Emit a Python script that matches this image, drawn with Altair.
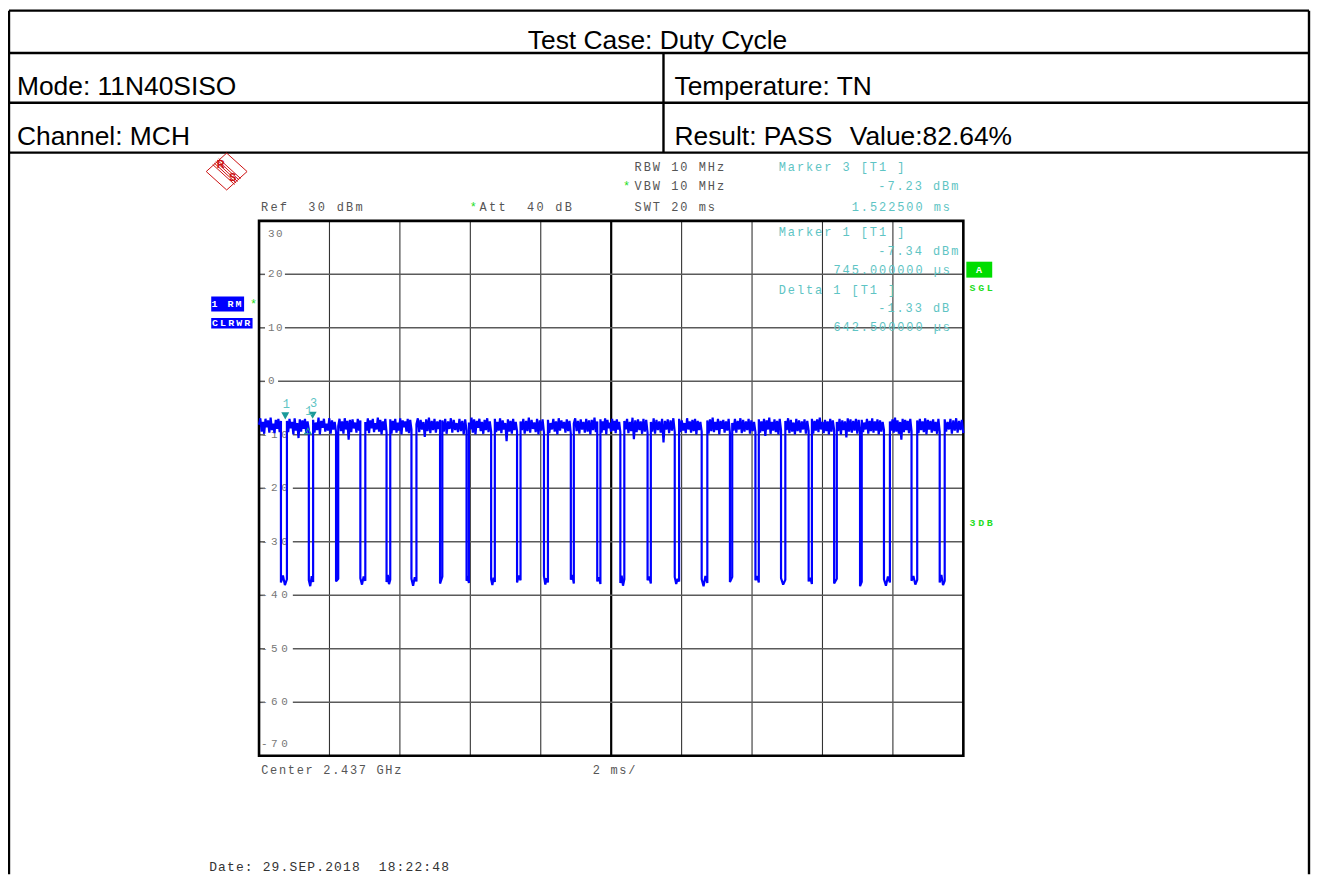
import altair as alt
import pandas as pd

# ---------------- values ----------------
sweep_ms = [0.0, 20.0]
level_top_dbm = 30
level_bottom_dbm = -70
x_grid_ms = [2, 4, 6, 8, 10, 12, 14, 16, 18]
y_tick_values = [30, 20, 10, 0, -10, -20, -30, -40, -50, -60, -70]
y_tick_labels = ["30", "20", "10", "0", "-10", "-20", "-30", "-40", "-50", "-60", "-70"]

gap_start_ms = [0.622, 1.414, 2.187, 2.877, 3.621, 4.328, 5.140, 5.893, 6.591, 7.327,
                8.091, 8.854, 9.604, 10.260, 11.033, 11.805, 12.570, 13.372, 14.096,
                14.823, 15.607, 16.331, 17.067, 17.746, 18.529, 19.329]
gap_end_ms = [0.792, 1.536, 2.249, 3.018, 3.726, 4.470, 5.205, 5.960, 6.696, 7.426,
              8.204, 8.939, 9.694, 10.373, 11.126, 11.929, 12.730, 13.437, 14.192,
              14.945, 15.700, 16.407, 17.115, 17.915, 18.690, 19.471]

burst_levels_dbm = [
    [-8.1, -6.9, -9.4, -7.6, -9.8, -7.0, -8.6, -7.3, -9.6, -6.8, -9.1, -7.9, -9.7, -7.2, -8.9, -7.0, -9.5, -7.4],
    [-7.4, -9.5, -7.0, -8.8, -7.6, -9.9, -6.9, -9.2, -7.8, -10.6, -7.1, -9.4, -7.3, -8.9, -7.0, -9.7, -7.5, -9.0],
    [-7.2, -9.6, -7.7, -9.1, -6.8, -9.9, -7.4, -8.7, -7.0, -9.4, -7.9, -9.2, -6.9, -9.8, -7.3, -9.0, -7.6, -9.5],
    [-8.4, -7.0, -9.3, -7.5, -9.8, -6.9, -9.0, -7.4, -10.9, -7.2, -9.5, -7.1, -8.8, -7.7, -9.6, -7.0, -9.2, -7.3],
    [-7.6, -9.2, -6.9, -9.7, -7.3, -8.8, -7.0, -9.5, -7.8, -9.0, -6.8, -9.4, -7.2, -9.9, -7.5, -9.1, -7.0, -9.6],
    [-7.1, -9.8, -7.4, -9.1, -7.0, -9.6, -7.7, -9.2, -6.9, -9.9, -7.3, -8.6, -7.5, -9.4, -7.0, -9.7, -7.2, -9.0],
    [-8.0, -6.9, -9.5, -7.2, -9.0, -7.6, -10.4, -7.1, -9.3, -6.8, -9.7, -7.4, -9.1, -7.0, -9.6, -7.5, -8.9, -7.2],
    [-7.3, -9.4, -7.0, -9.8, -7.5, -8.9, -6.9, -9.6, -7.2, -9.1, -7.8, -9.5, -7.0, -9.3, -7.4, -9.9, -7.1, -9.2],
    [-7.7, -9.0, -6.8, -9.6, -7.1, -9.9, -7.4, -8.7, -7.0, -9.3, -7.6, -9.8, -7.2, -9.1, -6.9, -9.5, -7.5, -9.4],
    [-7.0, -9.5, -7.6, -9.2, -6.9, -9.7, -7.3, -9.0, -7.8, -11.2, -7.1, -9.4, -7.4, -9.8, -7.0, -9.1, -7.6, -9.3],
    [-7.5, -9.1, -7.0, -9.8, -7.4, -9.3, -6.8, -9.6, -7.2, -8.9, -7.7, -9.5, -7.0, -9.9, -7.3, -9.2, -7.1, -9.6],
    [-7.2, -9.7, -7.8, -9.0, -7.0, -9.4, -7.5, -9.9, -6.9, -9.2, -7.3, -8.8, -7.6, -9.6, -7.1, -9.3, -7.4, -9.8],
    [-7.9, -6.9, -9.3, -7.4, -9.8, -7.1, -9.0, -7.6, -9.6, -7.0, -9.4, -7.3, -9.9, -7.2, -9.1, -6.8, -9.5, -7.5],
    [-7.1, -9.6, -7.5, -9.1, -6.9, -9.9, -7.2, -8.8, -7.7, -9.4, -7.0, -9.2, -7.4, -9.7, -7.1, -9.0, -7.6, -9.5],
    [-7.4, -9.0, -7.0, -9.7, -7.6, -9.3, -6.8, -10.8, -7.3, -9.5, -7.1, -9.1, -7.5, -9.8, -7.0, -9.4, -7.2, -9.6],
    [-7.6, -9.4, -6.9, -9.8, -7.2, -9.1, -7.5, -9.6, -7.0, -11.4, -7.4, -9.0, -7.1, -9.7, -7.3, -9.2, -6.9, -9.5],
    [-7.0, -9.5, -7.3, -9.2, -7.8, -9.7, -6.9, -9.0, -7.5, -9.6, -7.2, -9.3, -7.0, -9.9, -7.4, -9.1, -7.6, -9.4],
    [-7.3, -9.8, -7.1, -9.3, -6.8, -9.5, -7.6, -9.1, -7.0, -9.9, -7.4, -8.9, -7.2, -9.6, -7.5, -9.2, -7.0, -9.7],
    [-7.8, -9.2, -7.0, -9.6, -7.4, -9.0, -6.9, -9.7, -7.2, -9.4, -7.5, -9.1, -7.0, -9.8, -7.3, -9.3, -7.6, -9.5],
    [-7.1, -9.6, -7.5, -9.3, -7.0, -10.2, -7.3, -9.0, -6.8, -9.8, -7.6, -9.2, -7.1, -9.5, -7.4, -9.9, -7.0, -9.1],
    [-7.4, -9.1, -6.9, -9.7, -7.2, -9.4, -7.7, -9.9, -7.0, -9.3, -7.3, -9.6, -7.5, -9.0, -7.1, -9.8, -7.4, -9.2],
    [-7.0, -9.8, -7.4, -9.2, -7.1, -9.5, -6.8, -9.0, -7.6, -9.7, -7.2, -9.3, -7.5, -9.9, -7.0, -9.4, -7.3, -9.1],
    [-7.6, -9.3, -7.0, -9.9, -7.3, -9.1, -7.5, -10.5, -6.9, -9.4, -7.1, -9.6, -7.4, -9.2, -7.0, -9.8, -7.2, -9.5],
    [-7.2, -9.5, -7.7, -9.0, -7.0, -9.8, -7.4, -9.3, -6.9, -9.6, -7.5, -9.2, -7.1, -9.9, -7.3, -9.4, -7.6, -9.1],
    [-7.5, -9.2, -7.1, -9.6, -6.8, -9.4, -7.3, -9.8, -7.6, -10.9, -7.0, -9.5, -7.2, -9.1, -7.4, -9.7, -7.0, -9.3],
    [-7.3, -9.7, -7.0, -9.1, -7.5, -9.5, -6.9, -9.9, -7.2, -9.0, -7.4, -9.6, -7.1, -9.3, -7.6, -9.8, -7.0, -9.4],
    [-7.1, -9.4, -7.6, -9.0, -7.0, -9.8, -7.3, -9.2, -6.9, -9.6, -7.4, -9.1, -7.2, -9.7],
]

gap_floor_dbm = [
    [-37.6, -36.3, -38.1, -37.0], [-37.2, -38.3, -36.4, -37.5], [-37.4, -36.9],
    [-36.8, -38.0, -36.5, -37.3], [-37.5, -36.2, -37.9, -37.1], [-36.9, -38.2, -36.6, -37.4],
    [-37.8, -36.5], [-37.3, -36.4, -37.7], [-37.0, -38.1, -36.7, -37.5],
    [-37.6, -36.3, -37.2], [-36.4, -38.0, -36.8, -37.6], [-37.1, -36.2, -37.8],
    [-37.4, -36.6, -37.9], [-37.7, -36.3, -38.2, -37.0], [-37.2, -36.5, -37.8],
    [-36.6, -37.9, -36.9, -37.4], [-37.0, -38.3, -36.4, -37.7], [-37.5, -36.6],
    [-37.2, -36.4, -37.6], [-36.8, -38.0, -37.1], [-37.4, -36.7, -37.9],
    [-37.8, -36.9], [-38.3, -37.5], [-37.0, -38.2, -36.5, -37.6],
    [-37.3, -36.4, -38.0, -37.1], [-37.6, -36.2, -38.1, -37.3],
]

marker_labels = ["1", "1", "3"]
marker_kind = ["abs", "delta", "abs"]
marker_t_ms = [0.745, 1.3875, 1.5225]
marker_dbm = [-7.34, -8.67, -7.23]

header_title = "Test Case: Duty Cycle"
header_left = ["Mode: 11N40SISO", "Channel: MCH"]
header_right = ["Temperature: TN", "Result: PASS"]
header_value = "Value:82.64%"

# ---------------- layout (page pixels -> chart pixels) ----------------
OFF = 8
W, H = 1308, 868
BLUE = "#0000ff"
TEAL = "#5ec4c4"
TEAL_DARK = "#1a9a9a"
GRAY = "#555555"
GREEN = "#22dd22"

xs = alt.Scale(domain=sweep_ms, range=[260 - OFF, 967 - OFF], nice=False, zero=False)
ys = alt.Scale(domain=[level_bottom_dbm, level_top_dbm], range=[757 - OFF, 220 - OFF],
               nice=False, zero=False)
PX_PER_MS = (967 - 260) / 20.0

# trace table built from the read values
rows = []
starts = [sweep_ms[0]] + gap_end_ms
stops = gap_start_ms + [sweep_ms[1]]
for k, vals in enumerate(burst_levels_dbm):
    a, b = starts[k], stops[k]
    n = len(vals)
    for j, v in enumerate(vals):
        rows.append((a + (b - a) * j / (n - 1), v))
    if k < len(gap_floor_dbm):
        fl = gap_floor_dbm[k]
        gs, ge = gap_start_ms[k], gap_end_ms[k]
        m = len(fl)
        for j, v in enumerate(fl):
            rows.append((gs + (ge - gs) * j / (m - 1), v))
trace_df = pd.DataFrame(rows, columns=["t", "v"])
trace_df["i"] = range(len(trace_df))

X = lambda f: alt.X(f, scale=xs, axis=None)
Y = lambda f: alt.Y(f, scale=ys, axis=None)
PX = lambda f: alt.X(f, scale=None, axis=None)
PY = lambda f: alt.Y(f, scale=None, axis=None)

# ---- grid ----
vgrid_df = pd.DataFrame({"t": x_grid_ms, "lo": level_bottom_dbm, "hi": level_top_dbm})
vgrid_df["w"] = [2.2 if t == 10 else 1.1 for t in x_grid_ms]
vgrid_df["c"] = ["#000000" if t == 10 else "#333333" for t in x_grid_ms]
vgrid = alt.Chart(vgrid_df).mark_rule().encode(
    x=X("t:Q"), y=Y("lo:Q"), y2="hi:Q",
    strokeWidth=alt.StrokeWidth("w:Q", scale=None),
    color=alt.Color("c:N", scale=None))

hseg = []
for v, lab in zip(y_tick_values, y_tick_labels):
    if v in (level_top_dbm, level_bottom_dbm):
        continue
    resume = 0.54 if lab == "0" else (0.96 if lab.startswith("-") else 0.735)
    hseg.append((v, 0.0, 0.17))
    hseg.append((v, resume, sweep_ms[1]))
hgrid = alt.Chart(pd.DataFrame(hseg, columns=["v", "t0", "t1"])).mark_rule(
    color="#5a5a5a", strokeWidth=1.5).encode(x=X("t0:Q"), x2="t1:Q", y=Y("v:Q"))

frame = alt.Chart(pd.DataFrame({"t0": [sweep_ms[0]], "t1": [sweep_ms[1]],
                                "lo": [level_bottom_dbm], "hi": [level_top_dbm]})).mark_rect(
    fillOpacity=0, stroke="#000000", strokeWidth=2.6).encode(
    x=X("t0:Q"), x2="t1:Q", y=Y("lo:Q"), y2="hi:Q")

# ---- y tick labels (per character, monospaced with wide pitch) ----
lab_rows = []
for v, lab in zip(y_tick_values, y_tick_labels):
    if lab.startswith("-"):
        x0, pitch = 262, 10.2
    else:
        x0, pitch = 269, 8.0
    for i, ch in enumerate(lab):
        t = (x0 + 3.2 + i * pitch - 260) / PX_PER_MS
        pos = "top" if v == level_top_dbm else ("bottom" if v == level_bottom_dbm else "mid")
        lab_rows.append((t, v, ch, pos))
lab_df = pd.DataFrame(lab_rows, columns=["t", "v", "ch", "pos"])
ylab_layers = []
for pos, dy in (("mid", 0), ("top", 13), ("bottom", -12)):
    ylab_layers.append(
        alt.Chart(lab_df[lab_df.pos == pos]).mark_text(
            font="Liberation Mono", fontSize=11, color="#777777", align="center",
            baseline="middle", dy=dy).encode(x=X("t:Q"), y=Y("v:Q"), text="ch:N"))

# ---- trace ----
trace = alt.Chart(trace_df).mark_line(color=BLUE, strokeWidth=2.2, strokeJoin="bevel").encode(
    x=X("t:Q"), y=Y("v:Q"), order="i:Q")

# ---- markers ----
mk_df = pd.DataFrame({"t": marker_t_ms, "v": marker_dbm, "lab": marker_labels,
                      "kind": marker_kind})
mk_abs = alt.Chart(mk_df[mk_df.kind == "abs"]).mark_point(
    shape="M-1,-2.1L1,-2.1L0,-0.3Z", filled=True, size=64, color=TEAL_DARK, opacity=1).encode(
    x=X("t:Q"), y=Y("v:Q"))
mk_delta = alt.Chart(mk_df[mk_df.kind == "delta"]).mark_point(
    shape="M-1,1.9L1,1.9L0,0.2Z", filled=False, size=40, color=TEAL_DARK, strokeWidth=1.1,
    opacity=1).encode(x=X("t:Q"), y=Y("v:Q"))
mk_text = alt.Chart(mk_df).mark_text(
    font="Liberation Mono", fontSize=12, color=TEAL, dy=-17, dx=1).encode(
    x=X("t:Q"), y=Y("v:Q"), text="lab:N")

# ---- instrument annotation text, placed character by character ----
ann = [
    ("RBW 10 MHz", 637, 165.7, GRAY, 9.2),
    ("VBW 10 MHz", 637, 185.0, GRAY, 9.2),
    ("SWT 20 ms", 637, 205.7, GRAY, 9.2),
    ("*", 625.5, 185.0, GREEN, 9.2),
    ("Ref  30 dBm", 262, 206.0, GRAY, 9.5),
    ("*", 471.5, 206.0, GREEN, 9.5),
    ("Att  40 dB", 481.5, 206.0, GRAY, 9.5),
    ("Marker 3 [T1 ]", 781.7, 165.7, TEAL, 9.15),
    ("-7.23 dBm", 881.7, 185.0, TEAL, 9.15),
    ("1.522500 ms", 855.0, 205.7, TEAL, 9.15),
    ("Marker 1 [T1 ]", 781.7, 231.7, TEAL, 9.15),
    ("-7.34 dBm", 881.7, 250.0, TEAL, 9.15),
    ("745.000000 \u00b5s", 836.7, 269.0, TEAL, 9.15),
    ("Delta 1 [T1 ]", 781.7, 289.0, TEAL, 9.15),
    ("-1.33 dB", 881.7, 307.7, TEAL, 9.15),
    ("642.500000 \u00b5s", 836.7, 326.7, TEAL, 9.15),
    ("Center 2.437 GHz", 262.3, 771.7, GRAY, 8.9),
    ("2 ms/", 595.0, 771.7, GRAY, 8.9),
    ("*", 251.0, 303.0, GREEN, 9.0),
]
ann_rows = []
for s, x0, y0, col, pitch in ann:
    for i, ch in enumerate(s):
        if ch != " ":
            ann_rows.append((x0 + 3.5 + i * pitch - OFF, y0 - OFF, ch, col))
ann_df = pd.DataFrame(ann_rows, columns=["px", "py", "ch", "col"])
ann_text = alt.Chart(ann_df).mark_text(
    font="Liberation Mono", fontSize=12, align="center", baseline="middle").encode(
    x=PX("px:Q"), y=PY("py:Q"), text="ch:N", color=alt.Color("col:N", scale=None))

date_rows = [(210 + 3.8 + i * 8.96 - OFF, 869.0 - OFF, ch)
             for i, ch in enumerate("Date: 29.SEP.2018  18:22:48") if ch != " "]
date_text = alt.Chart(pd.DataFrame(date_rows, columns=["px", "py", "ch"])).mark_text(
    font="Liberation Mono", fontSize=13, align="center", baseline="middle",
    color="#333333").encode(x=PX("px:Q"), y=PY("py:Q"), text="ch:N")

# ---- coloured status boxes ----
box_df = pd.DataFrame([
    (212 - OFF, 245 - OFF, 296 - OFF, 311 - OFF, BLUE),
    (212 - OFF, 253.5 - OFF, 317.5 - OFF, 328 - OFF, BLUE),
    (970 - OFF, 996 - OFF, 261 - OFF, 277 - OFF, "#00dd00"),
], columns=["x0", "x1", "y0", "y1", "col"])
boxes = alt.Chart(box_df).mark_rect().encode(
    x=PX("x0:Q"), x2="x1:Q", y=PY("y0:Q"), y2="y1:Q", color=alt.Color("col:N", scale=None))

bold = [
    ("1 RM", 212.0, 303.5, "#ffffff", 8.0),
    ("CLRWR", 212.5, 322.8, "#ffffff", 8.1),
    ("A", 979.5, 269.0, "#ffffff", 8.6),
    ("SGL", 973.0, 287.5, GREEN, 8.6),
    ("3DB", 973.0, 523.0, GREEN, 8.6),
]
bold_rows = []
for s, x0, y0, col, pitch in bold:
    for i, ch in enumerate(s):
        if ch != " ":
            bold_rows.append((x0 + 3.3 + i * pitch - OFF, y0 - OFF, ch, col))
bold_text = alt.Chart(pd.DataFrame(bold_rows, columns=["px", "py", "ch", "col"])).mark_text(
    font="Liberation Mono", fontSize=10, fontWeight="bold", align="center",
    baseline="middle").encode(x=PX("px:Q"), y=PY("py:Q"), text="ch:N",
                              color=alt.Color("col:N", scale=None))

# ---- R&S logo ----
cx, cy = 227.5 - OFF, 170.5 - OFF
logo_lines = [
    (cx - 20.5, cy, cx, cy - 18.5), (cx, cy - 18.5, cx + 20.5, cy),
    (cx + 20.5, cy, cx, cy + 18.5), (cx, cy + 18.5, cx - 20.5, cy),
]
for d in (-3, -1.5, 0, 1.5, 3):
    logo_lines.append((cx - 11 + d, cy - 10 - d, cx + 11 + d, cy + 10 - d))
logo = alt.Chart(pd.DataFrame(logo_lines, columns=["x0", "y0", "x1", "y1"])).mark_rule(
    color="#cc1111", strokeWidth=1).encode(x=PX("x0:Q"), y=PY("y0:Q"), x2="x1:Q", y2="y1:Q")
logo_txt = alt.Chart(pd.DataFrame([(cx - 6, cy - 7, "R"), (cx + 6, cy + 7, "S")],
                                  columns=["px", "py", "ch"])).mark_text(
    font="Liberation Sans", fontSize=11, fontWeight="bold", color="#cc1111",
    align="center", baseline="middle").encode(x=PX("px:Q"), y=PY("py:Q"), text="ch:N")

# ---- report table ----
tbl = pd.DataFrame([
    (1, W - 2, 1, 1),                  # top border
    (1, W - 2, 51.5 - OFF, 51.5 - OFF),
    (1, W - 2, 101.5 - OFF, 101.5 - OFF),
    (1, W - 2, 151.5 - OFF, 151.5 - OFF),
    (1, 1, 1, H),                      # left border
    (W - 2, W - 2, 1, H),              # right border
    (666 - OFF, 666 - OFF, 51.5 - OFF, 151.5 - OFF),
], columns=["x0", "x1", "y0", "y1"])
table = alt.Chart(tbl).mark_rule(color="#000000", strokeWidth=2.4).encode(
    x=PX("x0:Q"), x2="x1:Q", y=PY("y0:Q"), y2="y1:Q")

head_df = pd.DataFrame([
    (17 - OFF, 94 - OFF, header_left[0]),
    (17 - OFF, 144 - OFF, header_left[1]),
    (677 - OFF, 94 - OFF, header_right[0]),
    (677 - OFF, 144 - OFF, header_right[1]),
    (853 - OFF, 144 - OFF, header_value),
], columns=["px", "py", "txt"])
head = alt.Chart(head_df).mark_text(
    font="Liberation Sans", fontSize=26.5, align="left", baseline="alphabetic",
    color="#000000").encode(x=PX("px:Q"), y=PY("py:Q"), text="txt:N")
title = alt.Chart(pd.DataFrame([(660 - OFF, 47 - OFF, header_title)],
                               columns=["px", "py", "txt"])).mark_text(
    font="Liberation Sans", fontSize=26.5, align="center", baseline="alphabetic",
    color="#000000").encode(x=PX("px:Q"), y=PY("py:Q"), text="txt:N")

chart = alt.layer(
    table, head, title, logo, logo_txt,
    vgrid, hgrid, *ylab_layers, frame,
    trace, mk_abs, mk_delta, mk_text,
    ann_text, date_text, boxes, bold_text,
).resolve_scale(
    x="independent", y="independent", color="independent", strokeWidth="independent"
).properties(
    width=W, height=H, padding=0, autosize=alt.AutoSizeParams(type="none"),
    background="#ffffff"
).configure_view(strokeWidth=0)

chart.save("out.html", embed_options={"renderer": "svg", "actions": False})
